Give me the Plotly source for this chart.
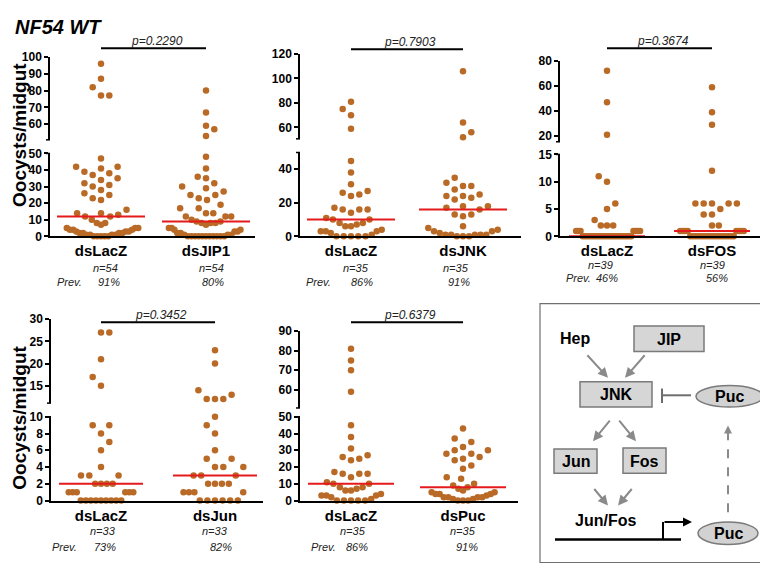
import plotly.graph_objects as go
import numpy as np

W, H = 768, 563

# ---- data: oocysts per midgut, one value per mosquito ----
p1_labels = ['dsLacZ', 'dsJIP1']
p1_lacz = [96, 87, 82, 77, 77, 47, 42, 42, 41, 39, 38, 37, 35, 34, 32, 31, 30, 28, 26, 25,
           23, 22, 16, 14, 14, 13, 12, 12, 10, 8, 8, 7, 5, 5, 5, 4, 4, 4, 3, 3, 3, 2, 2, 2, 2,
           1, 1, 1, 1, 0, 0, 0, 0, 0]
p1_jip1 = [80, 67, 59, 57, 53, 48, 41, 36, 35, 32, 30, 29, 27, 25, 25, 23, 22, 19, 17, 17,
           14, 14, 12, 12, 12, 10, 9, 9, 8, 8, 8, 7, 5, 5, 4, 4, 3, 3, 2, 2, 1, 1, 1,
           0, 0, 0, 0, 0, 0, 0, 0, 0, 0, 0]
p1_pvalue = 'p=0.2290'

p2_labels = ['dsLacZ', 'dsJNK']
p2_lacz = [81, 75, 70, 59, 45, 38, 31, 27, 26, 25, 24, 17, 16, 16, 16, 14, 11, 10, 10, 8, 8,
           7, 6, 6, 4, 3, 3, 3, 2, 1, 0, 0, 0, 0, 0]
p2_jnk = [106, 64, 56, 52, 35, 32, 30, 30, 28, 25, 24, 24, 23, 22, 18, 18, 17, 16, 13, 13, 12,
          6, 5, 4, 3, 3, 2, 1, 1, 1, 1, 1, 0, 0, 0]
p2_pvalue = 'p=0.7903'

p3_labels = ['dsLacZ', 'dsFOS']
p3_lacz = [72, 47, 21, 11, 10, 6, 5, 3, 2, 2, 2] + [1] * 7 + [0] * 21
p3_fos = [59, 39, 29, 12, 6, 6, 6, 6, 6, 5, 4, 4, 2, 2] + [1] * 8 + [0] * 17
p3_pvalue = 'p=0.3674'

p4_labels = ['dsLacZ', 'dsJun']
p4_lacz = [27, 27, 21, 17, 15, 9, 9, 8, 7, 6, 4, 3, 3, 3, 2, 2, 2, 2] + [1] * 6 + [0] * 9
p4_jun = [23, 20, 14, 13, 12, 12, 12, 10, 9, 8, 6, 5, 5, 4, 4, 4, 3, 3, 3, 2, 2, 2, 2] + [1] * 4 + [0] * 6
p4_pvalue = 'p=0.3452'

p5_labels = ['dsLacZ', 'dsPuc']
p5_lacz = p2_lacz
p5_puc = [43, 37, 35, 32, 30, 30, 28, 28, 26, 25, 24, 21, 19, 14, 13, 10, 9, 8, 7, 6, 5, 5,
          4, 4, 4, 3, 2, 2, 2, 2, 1, 1, 0, 0, 0]
p5_pvalue = 'p=0.6379'

DOT = '#B96A26'
RED = '#E41A1C'
FONT = 'Arial, Liberation Sans, sans-serif'


def fx(px):
    return px / W


def fy(py):
    return 1 - py / H


# layout of the five scatter panels (pixel positions)
panels = [
    dict(groups=[p1_lacz, p1_jip1], labels=p1_labels, p=p1_pvalue, left=42, right=247, cx=(93, 198),
         base=227, ltop=142, lmax=50, lticks=[0, 10, 20, 30, 40, 50],
         ubot=128, utop=43, urange=(50.7, 100), uticks=[60, 70, 80, 90, 100],
         pbar=34, ny=259, py=274, nx=(97, 203), pctx=(101, 205), prevx=61, half=44),
    dict(groups=[p2_lacz, p2_jnk], labels=p2_labels, p=p2_pvalue, left=292, right=513, cx=(343, 455),
         base=227, ltop=141, lmax=50, lticks=[0, 20, 40],
         ubot=127, utop=40, urange=(50.7, 120), uticks=[60, 80, 100, 120],
         pbar=35, ny=259, py=274, nx=(348, 448), pctx=(354, 451), prevx=310, half=44),
    dict(groups=[p3_lacz, p3_fos], labels=p3_labels, p=p3_pvalue, left=552, right=760, cx=(599, 704),
         base=227, ltop=143, lmax=15, lticks=[0, 5, 10, 15],
         ubot=130, utop=47, urange=(15.4, 80), uticks=[20, 40, 60, 80],
         pbar=34, ny=256, py=270, nx=(592, 704), pctx=(599, 709), prevx=570, half=38),
    dict(groups=[p4_lacz, p4_jun], labels=p4_labels, p=p4_pvalue, left=43, right=255, cx=(93, 207),
         base=498, ltop=412, lmax=10, lticks=[0, 2, 4, 6, 8, 10],
         ubot=398, utop=312, urange=(11.1, 30), uticks=[15, 20, 25, 30],
         pbar=315, ny=529, py=546, nx=(95, 207), pctx=(97, 213), prevx=56, half=42),
    dict(groups=[p5_lacz, p5_puc], labels=p5_labels, p=p5_pvalue, left=292, right=510, cx=(343, 455),
         base=498, ltop=412, lmax=50, lticks=[0, 10, 20, 30, 40, 50],
         ubot=403, utop=324, urange=(50.8, 90), uticks=[60, 70, 80, 90],
         pbar=315, ny=529, py=546, nx=(345, 455), pctx=(349, 459), prevx=315, half=43),
]


def swarm(ypix, DX=8.3, DV=9.5, width=80, half=44):
    # greedy column scatter in pixel space (rectangular collision),
    # rows squeezed when the crowded band would be wider than the column
    y = np.asarray(ypix, float)
    n = len(y)
    cnt = np.array([(np.abs(y - yi) < DV).sum() for yi in y])
    s = np.minimum(1.0, (width / DX) / cnt)
    xs = np.zeros(n)
    placed = []
    side = 1
    for i in np.argsort(-y, kind='stable'):
        near = [j for j in placed if abs(y[i] - y[j]) < DV]
        need = {j: DX * min(s[i], s[j]) for j in near}
        cands = [0.0] + [xs[j] + sg * need[j] for j in near for sg in (1, -1)]
        cands.sort(key=lambda c: (round(abs(c), 4), -side * np.sign(c)))
        for c in cands:
            if all(abs(c - xs[j]) >= need[j] - 1e-6 for j in near):
                xs[i] = c
                break
        if xs[i] != 0:
            side = -np.sign(xs[i])
        placed.append(i)
    return np.clip(xs, -half, half)


fig = go.Figure()
layout = dict(width=W, height=H, margin=dict(l=0, r=0, t=0, b=0), showlegend=False,
              paper_bgcolor='white', plot_bgcolor='white', font=dict(family=FONT, color='black'))
shapes, annots = [], []

for k, pn in enumerate(panels):
    xid = '' if k == 0 else str(k + 1)
    ylo = '' if k == 0 else str(2 * k + 1)
    yhi = str(2 * k + 2)
    scale = pn['cx'][1] - pn['cx'][0]
    xr = [-(pn['cx'][0] - pn['left']) / scale, (pn['right'] - pn['cx'][0]) / scale]
    u0, u1 = pn['urange']

    layout['xaxis' + xid] = dict(domain=[fx(pn['left']), fx(pn['right'])], range=xr, anchor='y' + ylo,
                                 showline=True, linecolor='black', linewidth=2, showgrid=False,
                                 zeroline=False, ticks='', tickvals=[0, 1], ticktext=pn['labels'],
                                 tickfont=dict(size=15, weight='bold'))
    yax = dict(anchor='x' + xid, showline=True, linecolor='black', linewidth=1.5, showgrid=False,
               zeroline=False, ticks='outside', ticklen=4, tickwidth=1.5, tickcolor='black',
               tickfont=dict(size=12, weight='bold'))
    layout['yaxis' + ylo] = dict(yax, domain=[fy(pn['base']), fy(pn['ltop'])], range=[0, pn['lmax']],
                                 tickvals=pn['lticks'])
    layout['yaxis' + yhi] = dict(yax, domain=[fy(pn['ubot']), fy(pn['utop'])], range=[u0, u1],
                                 tickvals=pn['uticks'])
    # caps at the axis break
    for yy in (pn['ubot'], pn['ltop']):
        shapes.append(dict(type='line', xref='paper', yref='paper', x0=fx(pn['left'] - 4), x1=fx(pn['left']),
                           y0=fy(yy), y1=fy(yy), line=dict(color='black', width=1.5)))

    for g, vals in enumerate(pn['groups']):
        v = np.asarray(vals, float)
        lo = v <= pn['lmax']
        ypix = np.where(lo, pn['base'] - v / pn['lmax'] * (pn['base'] - pn['ltop']),
                        pn['ubot'] - (v - u0) / (u1 - u0) * (pn['ubot'] - pn['utop']))
        xs = g + swarm(ypix, width=2 * pn['half'] - 8, half=pn['half']) / scale
        for mask, yid in ((lo, ylo), (~lo, yhi)):
            fig.add_trace(go.Scatter(x=xs[mask], y=v[mask], mode='markers', xaxis='x' + xid, yaxis='y' + yid,
                                     marker=dict(size=6.5, color=DOT), cliponaxis=False, hoverinfo='y'))
        med = float(np.median(v))
        hw = pn['half'] / scale
        fig.add_trace(go.Scatter(x=[g - hw, g + hw], y=[med, med], mode='lines', xaxis='x' + xid,
                                 yaxis='y' + ylo, line=dict(color=RED, width=2), cliponaxis=False))
        n = len(v)
        prev = round(100 * np.count_nonzero(v) / n)
        annots.append(dict(x=fx(pn['nx'][g]), y=fy(pn['ny']), text=f'n={n}'))
        annots.append(dict(x=fx(pn['pctx'][g]), y=fy(pn['py']), text=f'{prev}%'))
    annots.append(dict(x=fx(pn['prevx']), y=fy(pn['py']), text='Prev.'))

    # significance bar
    shapes.append(dict(type='line', xref='x' + xid, yref='paper', x0=0, x1=1, y0=fy(pn['pbar']),
                       y1=fy(pn['pbar']), line=dict(color='black', width=2)))
    annots.append(dict(x=0.53, xref='x' + xid, y=fy(pn['pbar'] - 7), text=pn['p'], size=12))

for a in annots:
    size = a.pop('size', 11)
    a.update(xref=a.get('xref', 'paper'), yref='paper', showarrow=False, xanchor='center', yanchor='middle',
             font=dict(size=size, style='italic', color='#222'))

annots.append(dict(x=fx(5), y=fy(12), xref='paper', yref='paper', text='NF54 WT', showarrow=False,
                   xanchor='left', yanchor='middle', font=dict(size=20, weight='bold', style='italic')))
for yc in (123, 413):
    annots.append(dict(x=fx(12), y=fy(yc), xref='paper', yref='paper', text='Oocysts/midgut', showarrow=False,
                       textangle=-90, xanchor='center', yanchor='middle', font=dict(size=19, weight='bold')))

# ---- pathway diagram ----
GRAY = '#8A8A8A'


def pline(x0, y0, x1, y1, color=GRAY, width=2, dash='solid'):
    shapes.append(dict(type='line', xref='paper', yref='paper', x0=fx(x0), y0=fy(y0), x1=fx(x1), y1=fy(y1),
                       line=dict(color=color, width=width, dash=dash)))


def arrow(x0, y0, x1, y1, color=GRAY, width=2, size=1.0):
    annots.append(dict(x=fx(x1), y=fy(y1), ax=x0 - x1, ay=y0 - y1, xref='paper', yref='paper', text='',
                       showarrow=True, arrowhead=2, arrowsize=size, arrowwidth=width, arrowcolor=color))


def label(x, y, t):
    annots.append(dict(x=fx(x), y=fy(y), xref='paper', yref='paper', text=t, showarrow=False,
                       xanchor='center', yanchor='middle', font=dict(size=16, weight='bold')))


shapes.append(dict(type='rect', xref='paper', yref='paper', x0=fx(532), x1=fx(766), y0=fy(296), y1=fy(561.5),
                   line=dict(color='#707070', width=1.2), fillcolor='white', layer='below'))
for t, x0, y0, x1, y1 in [('JIP', 626, 319, 696, 345), ('JNK', 572, 376, 644, 402),
                          ('Jun', 546, 445, 589, 470), ('Fos', 615, 444, 658, 470)]:
    shapes.append(dict(type='rect', xref='paper', yref='paper', x0=fx(x0), x1=fx(x1), y0=fy(y0), y1=fy(y1),
                       line=dict(color='#7A7A7A', width=1.5), fillcolor='#D6D6D6'))
    label((x0 + x1) / 2, (y0 + y1) / 2 + 0.5, t)
for x0, y0, x1, y1 in [(688, 380, 755, 402), (690, 520, 750, 543)]:
    shapes.append(dict(type='circle', xref='paper', yref='paper', x0=fx(x0), x1=fx(x1), y0=fy(y0), y1=fy(y1),
                       line=dict(color='#7A7A7A', width=1.5), fillcolor='#D2D2D2'))
    label((x0 + x1) / 2, (y0 + y1) / 2 + 0.5, 'Puc')
label(567, 332, 'Hep')
label(597, 518, 'Jun/Fos')

arrow(578, 348, 600, 372)
arrow(638, 348, 617, 372)
arrow(603, 415, 585, 437)
arrow(610, 415, 628, 437)
arrow(585, 485, 600, 503)
arrow(625, 485, 610, 503)
pline(683, 390, 654, 390, color='#6E6E6E')
pline(654, 383, 654, 398, color='#6E6E6E')
pline(720, 510, 720, 426, dash='dash')
arrow(720, 428, 720, 421, size=0.8)
pline(547, 538, 673, 538, color='black', width=2.5)
pline(655, 538, 655, 520, color='black', width=2)
arrow(655, 520, 684, 520, color='black', width=2, size=0.9)

layout['shapes'] = shapes
layout['annotations'] = annots
fig.update_layout(**layout)
fig.write_html('out.html')
